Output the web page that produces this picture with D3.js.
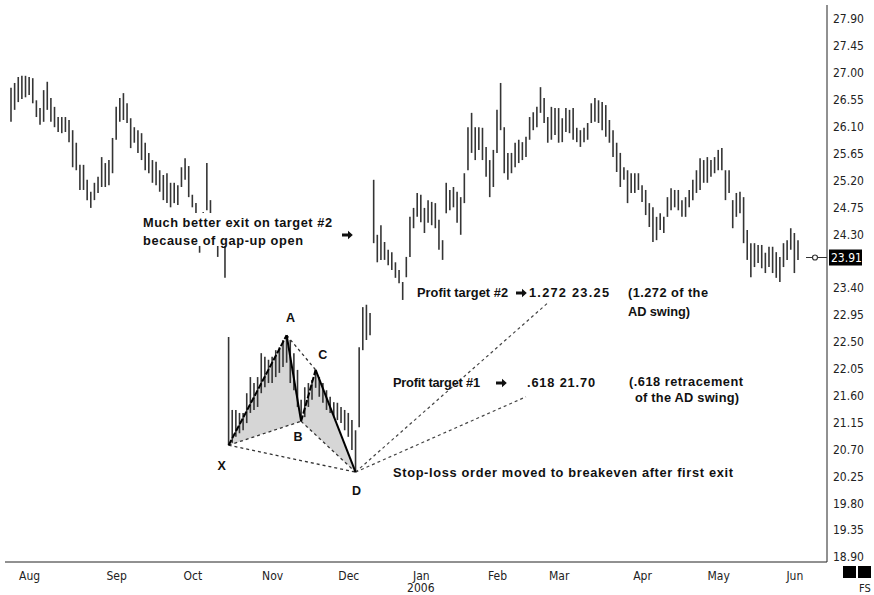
<!DOCTYPE html>
<html>
<head>
<meta charset="utf-8">
<script src="https://cdn.jsdelivr.net/npm/d3@7"></script>
<style>
  body { margin: 0; background: #fff; }
  svg { display: block; }
  .note { font-family: "Liberation Sans", Arial, sans-serif; font-weight: bold; font-size: 12.8px; fill: #111; }
  .pt { font-family: "Liberation Sans", Arial, sans-serif; font-weight: bold; font-size: 12.5px; fill: #111; }
  .axis text { font-family: "Liberation Sans Narrow", "DejaVu Sans Condensed", sans-serif; font-size: 12px; fill: #222; }
</style>
</head>
<body>
<div id="chart"></div>
<script>
// daily bars, late Jul 2005 - early Jun 2006
const highs = [
  26.75, 26.83, 26.93, 26.95, 26.95, 26.93, 26.91, 26.54, 26.41, 26.71,
  26.85, 26.58, 26.43, 26.26, 26.26, 26.26, 26.21, 26.04, 25.83, 25.46,
  25.46, 25.21, 25.01, 25.16, 25.26, 25.59, 25.49, 25.54, 25.91, 26.43,
  26.58, 26.66, 26.49, 26.24, 26.09, 26.04, 25.99, 25.83, 25.66, 25.54,
  25.51, 25.37, 25.29, 25.32, 25.16, 25.16, 25.12, 25.42, 25.57, 25.44,
  24.96, 24.82, 24.62, 24.67, 25.49, 24.87, 24.62, 24.45, 24.54, 24.15,
  22.58, 21.36, 21.36, 21.31, 21.31, 21.64, 21.91, 21.81, 21.91, 22.31,
  22.25, 22.20, 22.25, 22.36, 22.41, 22.53, 22.61, 22.53, 22.31, 22.03,
  21.53, 21.74, 21.81, 21.86, 22.03, 21.91, 21.81, 21.69, 21.58, 21.49,
  21.48, 21.41, 21.36, 21.31, 21.19, 21.02, 22.41, 23.08, 23.12, 22.98,
  25.21, 24.29, 24.45, 24.17, 24.04, 24.00, 23.83, 23.70, 23.50, 23.92,
  24.59, 24.74, 24.99, 24.96, 24.74, 24.87, 24.84, 24.82, 24.54, 24.20,
  25.16, 25.04, 25.09, 25.01, 24.92, 25.32, 26.09, 26.33, 26.09, 26.09,
  26.08, 25.76, 25.54, 25.71, 26.38, 26.83, 26.09, 25.66, 25.66, 25.83,
  25.88, 25.84, 25.93, 26.26, 26.34, 26.43, 26.76, 26.58, 26.26, 26.43,
  26.41, 26.41, 26.24, 26.41, 26.38, 26.41, 26.08, 26.04, 26.08, 26.16,
  26.49, 26.58, 26.54, 26.51, 26.46, 26.21, 26.04, 25.83, 25.66, 25.42,
  25.37, 25.32, 25.32, 25.32, 25.12, 25.04, 24.82, 24.75, 24.59, 24.65,
  24.59, 24.92, 25.07, 25.04, 25.04, 24.87, 24.92, 25.04, 25.21, 25.37,
  25.57, 25.54, 25.59, 25.54, 25.59, 25.71, 25.74, 25.37, 25.37, 24.87,
  24.99, 25.01, 24.92, 24.37, 24.15, 24.15, 24.12, 24.12, 23.99, 24.09,
  24.09, 24.00, 23.92, 24.15, 24.20, 24.40, 24.32, 24.20
];
const lows = [
  26.18, 26.38, 26.51, 26.56, 26.59, 26.63, 26.49, 26.26, 26.13, 26.18,
  26.38, 26.18, 26.09, 26.01, 25.99, 26.01, 25.84, 25.42, 25.37, 25.04,
  25.04, 24.87, 24.74, 24.87, 24.99, 25.09, 25.09, 25.12, 25.32, 25.88,
  26.18, 26.21, 26.16, 25.74, 25.83, 25.66, 25.54, 25.37, 25.32, 25.16,
  25.12, 25.01, 24.87, 24.82, 24.75, 24.82, 24.79, 25.09, 25.21, 24.92,
  24.75, 24.65, 23.99, 24.14, 24.70, 24.45, 24.14, 23.92, 24.14, 23.57,
  20.77, 20.81, 20.91, 20.97, 21.02, 21.14, 21.31, 21.36, 21.41, 21.64,
  21.74, 21.81, 21.81, 21.91, 21.98, 22.08, 22.15, 21.81, 21.69, 21.41,
  21.17, 21.24, 21.41, 21.53, 21.73, 21.58, 21.48, 21.36, 21.31, 21.24,
  21.19, 21.14, 21.02, 20.91, 20.69, 20.32, 21.07, 22.36, 22.53, 22.61,
  24.15, 23.83, 23.87, 23.87, 23.78, 23.70, 23.57, 23.48, 23.20, 23.58,
  23.92, 24.40, 24.59, 24.50, 24.32, 24.49, 24.45, 24.40, 24.04, 23.87,
  24.65, 24.70, 24.75, 24.49, 24.29, 24.82, 25.37, 25.66, 25.54, 25.71,
  25.54, 25.26, 24.92, 25.09, 25.66, 26.04, 25.32, 25.21, 25.32, 25.42,
  25.49, 25.54, 25.59, 25.88, 26.04, 26.09, 26.33, 26.16, 25.83, 25.88,
  25.96, 25.83, 25.84, 26.01, 25.99, 25.88, 25.84, 25.76, 25.84, 25.88,
  26.16, 26.18, 26.16, 26.04, 25.93, 25.83, 25.59, 25.34, 25.09, 25.21,
  24.82, 24.99, 24.99, 25.04, 24.84, 24.62, 24.42, 24.17, 24.20, 24.37,
  24.32, 24.59, 24.70, 24.75, 24.70, 24.59, 24.59, 24.75, 24.87, 24.99,
  25.04, 25.16, 25.16, 25.26, 25.32, 25.37, 25.37, 24.87, 24.99, 24.40,
  24.59, 24.65, 24.15, 23.87, 23.58, 23.75, 23.82, 23.73, 23.65, 23.75,
  23.65, 23.57, 23.50, 23.75, 23.87, 24.04, 23.65, 23.87
];
const lastPrice = 23.91;

const monthNames = ["Aug", "Sep", "Oct", "Nov", "Dec", "Jan", "Feb", "Mar", "Apr", "May", "Jun"];
const monthBar = [5, 29, 50, 72, 93, 113, 134, 151, 174, 195, 216];
const priceTicks = [27.90, 27.45, 27.00, 26.55, 26.10, 25.65, 25.20, 24.75, 24.30,
  23.40, 22.95, 22.50, 22.05, 21.60, 21.15, 20.70, 20.25, 19.80, 19.35, 18.90];

// XABCD pattern
const patternNames = ["X", "A", "B", "C", "D"];
const patternBar = [60, 76, 80, 84, 95];
const patternPrice = [20.77, 22.61, 21.17, 22.03, 20.32];
// dashed projections from D toward the profit targets
const targetBar = [148, 142];
const targetPrice = [23.15, 21.58];

const width = 874, height = 595;
const svg = d3.select("#chart").append("svg")
    .attr("width", width)
    .attr("height", height);

const x = d3.scaleLinear().domain([0, highs.length - 1]).range([11, 798]);
const y = d3.scaleLinear().domain([18.90, 27.90]).range([557, 19]);

const pts = patternNames.map((n, i) => ({name: n, x: x(patternBar[i]), y: y(patternPrice[i])}));
const P = {};
pts.forEach(p => P[p.name] = p);

// grey triangles of the pattern
const tri = [["X", "A", "B"], ["B", "C", "D"]];
svg.append("g").selectAll("path")
  .data(tri)
  .enter().append("path")
    .attr("d", d => "M" + d.map(k => P[k].x + "," + P[k].y).join("L") + "Z")
    .attr("fill", "#d6d6d6");

// price bars
svg.append("g").selectAll("line")
  .data(highs)
  .enter().append("line")
    .attr("x1", (d, i) => x(i))
    .attr("x2", (d, i) => x(i))
    .attr("y1", d => y(d))
    .attr("y2", (d, i) => y(lows[i]))
    .attr("stroke", "#353535")
    .attr("stroke-width", 1.6);

// dashed helper lines
const dashed = [["X", "B"], ["A", "C"], ["B", "D"], ["X", "D"]];
svg.append("g").selectAll("line")
  .data(dashed)
  .enter().append("line")
    .attr("x1", d => P[d[0]].x).attr("y1", d => P[d[0]].y)
    .attr("x2", d => P[d[1]].x).attr("y2", d => P[d[1]].y)
    .attr("stroke", "#333")
    .attr("stroke-width", 1.3)
    .attr("stroke-dasharray", "3,3");

svg.append("g").selectAll("line")
  .data(targetBar)
  .enter().append("line")
    .attr("x1", P.D.x).attr("y1", P.D.y)
    .attr("x2", d => x(d)).attr("y2", (d, i) => y(targetPrice[i]))
    .attr("stroke", "#444")
    .attr("stroke-width", 1.2)
    .attr("stroke-dasharray", "3,3");

// pattern legs
const legs = [["X", "A", "6,2"], ["A", "B", null], ["B", "C", "6,2"], ["C", "D", null]];
svg.append("g").selectAll("line")
  .data(legs)
  .enter().append("line")
    .attr("x1", d => P[d[0]].x).attr("y1", d => P[d[0]].y)
    .attr("x2", d => P[d[1]].x).attr("y2", d => P[d[1]].y)
    .attr("stroke", "#000")
    .attr("stroke-width", 2)
    .attr("stroke-dasharray", d => d[2]);

// point letters
const letterOff = {X: [-7, 21], A: [4, -17], B: [-3, 16], C: [7, -15], D: [1, 19]};
svg.append("g").selectAll("text")
  .data(pts)
  .enter().append("text")
    .attr("class", "pt")
    .attr("x", d => d.x + letterOff[d.name][0])
    .attr("y", d => d.y + letterOff[d.name][1] + 4)
    .attr("text-anchor", "middle")
    .text(d => d.name);

// annotations
function arrow(ax, ay) {
  svg.append("path")
    .attr("d", `M${ax},${ay - 1.4}h6v-2.8l4.8,4.2l-4.8,4.2v-2.8h-6z`)
    .attr("fill", "#111");
}
function note(t, tx, ty, w) {
  svg.append("text").attr("class", "note")
    .attr("x", tx).attr("y", ty)
    .attr("textLength", w).attr("lengthAdjust", "spacing")
    .text(t);
}

svg.append("rect").attr("x", 140).attr("y", 213).attr("width", 196).attr("height", 33).attr("fill", "#fff");
note("Much better exit on target #2", 143, 227, 189);
note("because of gap-up open", 143, 245, 160);
arrow(342, 235);

note("Profit target #2", 417, 297, 91);
arrow(516, 293);
note("1.272 23.25", 529, 297, 80);
note("(1.272 of the", 628, 297, 80);
note("AD swing)", 628, 316, 62);

note("Profit target #1", 393, 387, 87);
arrow(496, 383);
note(".618 21.70", 527, 387, 68);
note("(.618 retracement", 629, 386, 114);
note("of the AD swing)", 635, 402, 104);

note("Stop-loss order moved to breakeven after first exit", 393, 477, 340);

// axes
svg.append("line").attr("x1", 827).attr("x2", 827).attr("y1", 5).attr("y2", 562)
  .attr("stroke", "#222").attr("stroke-width", 1);
svg.append("line").attr("x1", 5).attr("x2", 827).attr("y1", 562).attr("y2", 562)
  .attr("stroke", "#222").attr("stroke-width", 1);

const yAxis = svg.append("g")
    .attr("class", "axis")
    .attr("transform", "translate(827,0)")
    .call(d3.axisRight(y).tickValues(priceTicks).tickSize(0).tickPadding(6).tickFormat(d3.format(".2f")));
yAxis.select(".domain").remove();

const xAxis = svg.append("g")
    .attr("class", "axis")
    .attr("transform", "translate(0,562)")
    .call(d3.axisBottom(x).tickValues(monthBar).tickSize(0).tickPadding(9)
      .tickFormat((d, i) => monthNames[i]));
xAxis.select(".domain").remove();
xAxis.append("text")
    .attr("x", x(monthBar[5]))
    .attr("y", 30)
    .attr("text-anchor", "middle")
    .text("2006");

// last price marker
const yl = y(lastPrice);
svg.append("line").attr("x1", 806).attr("x2", 827).attr("y1", yl).attr("y2", yl)
  .attr("stroke", "#333").attr("stroke-width", 1);
svg.append("circle").attr("cx", 815).attr("cy", yl).attr("r", 2.5)
  .attr("fill", "#fff").attr("stroke", "#333").attr("stroke-width", 1.2);
svg.append("rect").attr("x", 829).attr("y", yl - 8).attr("width", 33).attr("height", 16).attr("fill", "#000");
svg.append("text")
    .attr("x", 831).attr("y", yl + 4.5)
    .style("font-family", "'Liberation Sans Narrow','DejaVu Sans Condensed',sans-serif")
    .style("font-size", "12px")
    .attr("fill", "#fff")
    .text(d3.format(".2f")(lastPrice));

// bottom-right corner marks
svg.append("rect").attr("x", 843).attr("y", 566).attr("width", 13).attr("height", 12).attr("fill", "#000");
svg.append("rect").attr("x", 858).attr("y", 566).attr("width", 13).attr("height", 12).attr("fill", "#000");
svg.append("text")
    .attr("x", 859).attr("y", 592)
    .style("font-family", "'Liberation Sans Narrow','DejaVu Sans Condensed',sans-serif")
    .style("font-size", "11px")
    .attr("fill", "#222")
    .text("FS");
</script>
</body>
</html>
